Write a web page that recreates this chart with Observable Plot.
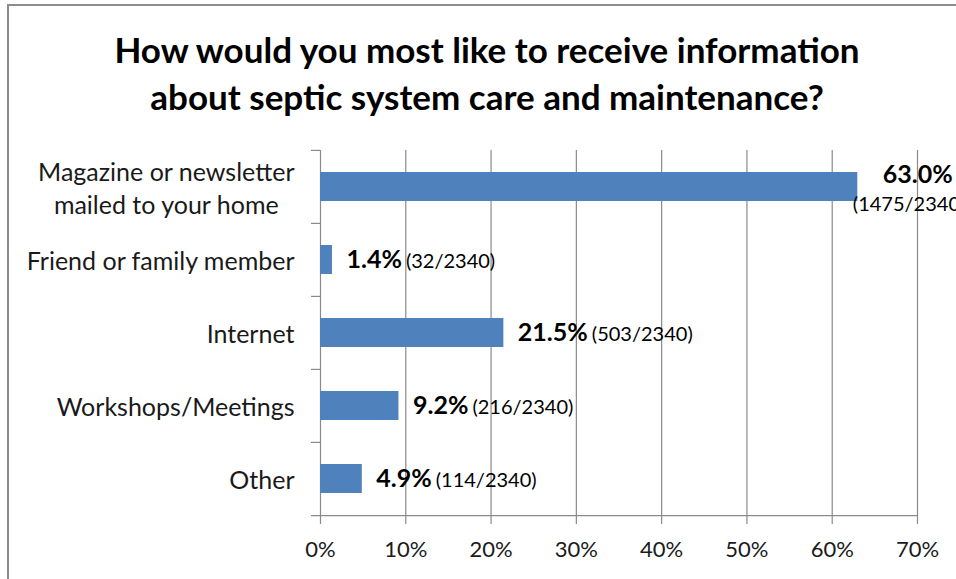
<!DOCTYPE html>
<html>
<head>
<meta charset="utf-8">
<script src="https://cdn.jsdelivr.net/npm/d3@7"></script>
<script src="https://cdn.jsdelivr.net/npm/@observablehq/plot@0.6"></script>
<style>
html, body { margin: 0; padding: 0; background: #fff; overflow: hidden; }
#wrap { position: relative; width: 956px; height: 579px; overflow: hidden; }
#frame { position: absolute; left: 7px; top: 4px; width: 1000px; height: 1000px;
  border-left: 2px solid #8c8c8c; border-top: 2px solid #8c8c8c; }
#title { position: absolute; left: 0; top: 26px; width: 974px; text-align: center;
  font: bold 35px Lato, sans-serif; line-height: 47px; color: #000; white-space: nowrap; }
#chart { position: absolute; left: 0; top: 130px; }
</style>
</head>
<body>
<div id="wrap">
  <div id="frame"></div>
  <div id="title">How would you most like to receive information<br>about septic system care and maintenance?</div>
  <div id="chart"></div>
</div>
<script>
const categories = [
  "Magazine or newsletter\nmailed to your home",
  "Friend or family member",
  "Internet",
  "Workshops/Meetings",
  "Other"
];
const percents = [63.0, 1.4, 21.5, 9.2, 4.9];
const counts = [1475, 32, 503, 216, 114];
const total = 2340;
const xTicks = [0, 10, 20, 30, 40, 50, 60, 70];

const data = categories.map((cat, i) => ({cat, pct: percents[i], count: counts[i]}));

const W = 956, H = 449, mt = 20, mb = 63, ml = 320, mr = 39;
const step = (H - mt - mb) / categories.length;
const gridColor = "#8a8a8a";

const svg = Plot.plot({
  width: W, height: H,
  marginTop: mt, marginBottom: mb, marginLeft: ml, marginRight: mr,
  style: {fontFamily: "Lato, sans-serif", color: "#1a1a1a", background: "transparent", overflow: "visible"},
  x: {domain: [0, 70], label: null},
  y: {domain: categories, paddingInner: 0.6, paddingOuter: 0.3, label: null},
  marks: [
    Plot.ruleX(xTicks, {stroke: gridColor, strokeWidth: 1.2, insetBottom: -8}),
    Plot.ruleY(categories, {y: d => d, dy: -step / 2, x1: 0, x2: 0, insetLeft: -9, stroke: gridColor, strokeWidth: 1.2}),
    Plot.ruleY([categories[categories.length - 1]], {y: d => d, dy: step / 2, x1: 0, x2: 70, insetLeft: -9, stroke: gridColor, strokeWidth: 1.2}),
    Plot.barX(data, {x: "pct", y: "cat", fill: "#4f81bd"}),
    Plot.axisX({ticks: xTicks, tickFormat: d => d + "%", tickSize: 0, tickPadding: 25, fontSize: 22, lineAnchor: "top", label: null}),
    Plot.axisY({tickSize: 0, tickPadding: 26, fontSize: 25, lineHeight: 1.3, label: null}),
    Plot.text(data, {x: "pct", y: "cat", text: d => d.pct.toFixed(1) + "%", dx: 14, textAnchor: "start",
      fontWeight: "bold", fontSize: 25, fill: "#000"})
  ]
});
document.getElementById("chart").appendChild(svg);

// center multi-line category labels
const yAxis = svg.querySelector('g[aria-label="y-axis tick label"]');
if (yAxis) {
  yAxis.querySelectorAll("text").forEach(t => {
    const spans = t.querySelectorAll("tspan");
    if (spans.length > 1) {
      let w = 0;
      spans.forEach(s => { w = Math.max(w, s.getComputedTextLength()); });
      t.setAttribute("text-anchor", "middle");
      t.setAttribute("transform", t.getAttribute("transform") + ` translate(${-w / 2},0)`);
    }
  });
}

// append counts to value labels
const svgLeft = svg.getBoundingClientRect().left;
const textGroups = svg.querySelectorAll('g[aria-label="text"]');
const lbl = textGroups[textGroups.length - 1];
lbl.querySelectorAll("text").forEach((t, i) => {
  const d = data[i];
  const countText = `(${d.count}/${total})`;
  const ts = document.createElementNS("http://www.w3.org/2000/svg", "tspan");
  ts.setAttribute("font-weight", "normal");
  ts.setAttribute("font-size", "20");
  ts.setAttribute("dx", "4");
  ts.textContent = countText;
  t.appendChild(ts);
  const right = t.getBoundingClientRect().right - svgLeft;
  if (right > W) {
    // wrap onto two lines like the original
    t.textContent = "";
    const a = document.createElementNS("http://www.w3.org/2000/svg", "tspan");
    a.setAttribute("x", "11");
    a.setAttribute("dy", "-12");
    a.textContent = d.pct.toFixed(1) + "%";
    const b = document.createElementNS("http://www.w3.org/2000/svg", "tspan");
    b.setAttribute("x", "-19");
    b.setAttribute("dy", "28");
    b.setAttribute("font-weight", "normal");
    b.setAttribute("font-size", "20");
    b.textContent = countText;
    t.appendChild(a);
    t.appendChild(b);
  }
});
</script>
</body>
</html>
